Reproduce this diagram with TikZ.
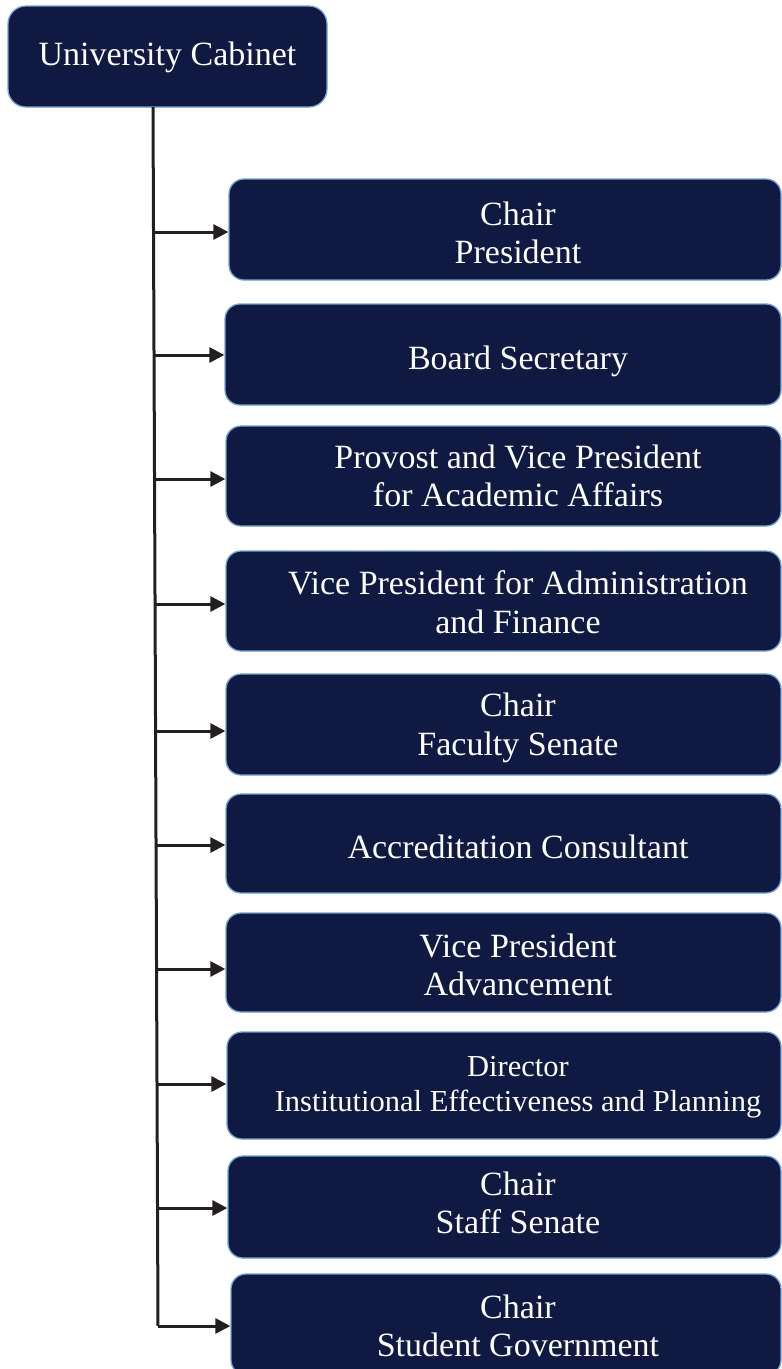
\documentclass[tikz,border=0pt]{standalone}
\usepackage{fontspec}
\setmainfont{Liberation Serif}
\usetikzlibrary{arrows.meta,calc}
\definecolor{navy}{HTML}{0F1942}
\definecolor{edgeblue}{HTML}{6FA3D8}
\definecolor{lineblk}{HTML}{231F20}
\tikzset{
  orgbox/.style={draw=edgeblue, line width=1.3pt, fill=navy, rounded corners=15pt, inner sep=0pt},
  orgtext/.style={text=white, align=center, font=\fontsize{34}{38.5}\selectfont, inner sep=0pt},
  smalltext/.style={text=white, align=center, font=\fontsize{30.5}{35}\selectfont, inner sep=0pt},
  conn/.style={draw=lineblk, line width=3pt, -{Triangle[length=15pt,width=15pt]}},
  trunk/.style={draw=lineblk, line width=3pt}
}
\begin{document}
\begin{tikzpicture}[x=1pt,y=-1pt]
\useasboundingbox (0,0) rectangle (782,1369);
% top box
\node[orgbox, minimum width=319pt, minimum height=101pt, rounded corners=18pt] (top) at (167.5,56.5) {};
\node[orgtext] (ttop) at (167.5,57) {University Cabinet};
% member boxes
\node[orgbox, minimum width=552pt, minimum height=101pt] (b1) at ({(229+781)/2},229.5) {};
\node[orgbox, minimum width=556pt, minimum height=101pt] (b2) at ({(225+781)/2},354.5) {};
\node[orgbox, minimum width=555pt, minimum height=100pt] (b3) at ({(226+781)/2},476) {};
\node[orgbox, minimum width=555pt, minimum height=100pt] (b4) at ({(226+781)/2},601) {};
\node[orgbox, minimum width=555pt, minimum height=101pt] (b5) at ({(226+781)/2},724.5) {};
\node[orgbox, minimum width=555pt, minimum height=99pt] (b6) at ({(226+781)/2},843.5) {};
\node[orgbox, minimum width=555pt, minimum height=99pt] (b7) at ({(226+781)/2},962.5) {};
\node[orgbox, minimum width=554pt, minimum height=107pt] (b8) at ({(227+781)/2},1085.5) {};
\node[orgbox, minimum width=553pt, minimum height=102pt] (b9) at ({(228+781)/2},1207) {};
\node[orgbox, minimum width=550pt, minimum height=101pt] (b10) at ({(231+781)/2},1324.5) {};
% texts
\node[orgtext] (t1) at (518,233) {Chair\\President};
\node[orgtext] (t2) at (518,361) {Board Secretary};
\node[orgtext] (t3) at (518,476) {Provost and Vice President\\for Academic Affairs};
\node[orgtext] (t4) at (518,602) {Vice President for Administration\\and Finance};
\node[orgtext] (t5) at (518,728) {Chair\\Faculty Senate};
\node[orgtext] (t6) at (518,847) {Accreditation Consultant};
\node[orgtext] (t7) at (518,965) {Vice President\\Advancement};
\node[smalltext] (t8) at (518,1087) {Director\\Institutional Effectiveness and Planning};
\node[orgtext] (t9) at (518,1203) {Chair\\Staff Senate};
\node[orgtext] (t10) at (518,1326) {Chair\\Student Government};
% trunk
\coordinate (trTop) at (153,107);
\coordinate (trBot) at (158,1326);
\draw[trunk] (trTop) -- (trBot);
\draw[conn] (trBot) -- (b10.west |- trBot);
\foreach \b/\y in {b1/232,b2/355,b3/479,b4/604,b5/731,b6/845,b7/969,b8/1084,b9/1208}{
  \coordinate (s\b) at ({153+5*(\y-107)/1219},\y);
  \draw[conn] (s\b) -- (\b.west |- s\b);
}
\end{tikzpicture}
\end{document}
